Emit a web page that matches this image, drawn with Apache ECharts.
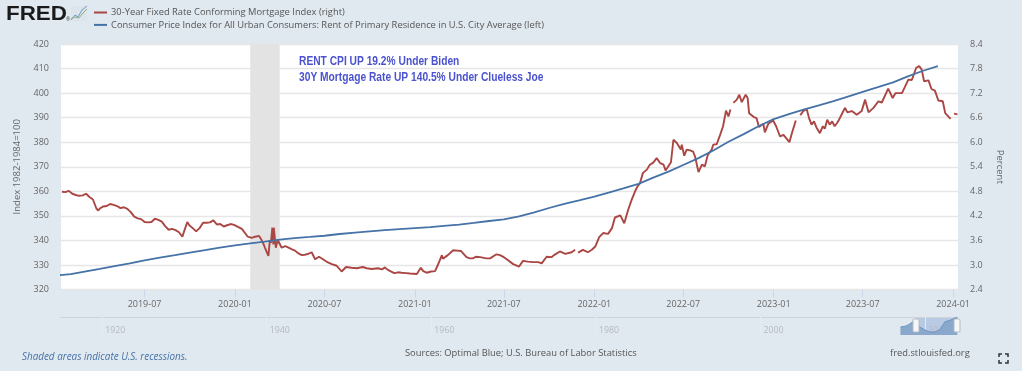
<!DOCTYPE html>
<html><head><meta charset="utf-8">
<style>html,body{margin:0;padding:0;background:#e1e9f0}#c{width:1022px;height:371px}</style>
<script src="https://cdn.jsdelivr.net/npm/echarts@6/dist/echarts.min.js"></script>
</head><body><div id="c"></div>
<script>
// Day offsets are counted from 2019-01-01; values are percent, null marks a gap in the source.
const rate2019 = [[13,4.79],[20,4.78],[27,4.81],[34,4.74],[41,4.71],[48,4.69],[55,4.70],[62,4.74],[69,4.66],[76,4.60],[83,4.38],[87,4.33],[90,4.38],[97,4.43],[104,4.44],[111,4.49],[118,4.47],[125,4.44],[132,4.39],[139,4.41],[146,4.37],[153,4.29],[160,4.18],[167,4.14],[174,4.12],[181,4.05],[188,4.04],[195,4.05],[202,4.13],[209,4.10],[216,4.06],[223,3.95],[230,3.86],[237,3.88],[244,3.85],[251,3.80],[258,3.69],[262,3.84],[268,4.05],[272,3.97],[279,3.90],[286,3.82],[293,3.90],[300,4.03],[307,4.03],[314,4.04],[321,4.09],[328,3.99],[335,4.00],[342,3.94],[349,3.97],[356,4.00],[363,3.98]];
const rate2020 = [[365,3.94],[379,3.88],[383,3.86],[391,3.69],[399,3.66],[406,3.69],[414,3.71],[421,3.57],[426,3.42],[433,3.22],[436,3.61],[438,3.54],[441,3.91],[443,3.50],[444,3.91],[448,3.42],[452,3.61],[460,3.42],[467,3.46],[473,3.43],[481,3.38],[487,3.35],[493,3.29],[501,3.24],[507,3.25],[514,3.27],[521,3.31],[528,3.14],[536,3.20],[544,3.14],[554,3.06],[562,3.02],[572,2.98],[582,2.84],[591,2.95],[602,2.93],[613,2.92],[625,2.95],[633,2.92],[643,2.90],[656,2.92],[664,2.89],[670,2.94],[676,2.88],[689,2.80],[697,2.82],[704,2.81],[713,2.80],[721,2.79]];
const rate2021 = [[735,2.78],[743,2.93],[748,2.85],[755,2.81],[764,2.84],[772,2.85],[777,2.98],[786,3.24],[788,3.15],[798,3.24],[809,3.36],[817,3.35],[825,3.34],[836,3.19],[843,3.16],[849,3.16],[855,3.20],[864,3.19],[876,3.16],[884,3.16],[897,3.26],[904,3.24],[912,3.19],[920,3.12],[931,3.02],[943,2.96],[951,3.10],[961,3.08],[971,3.07],[982,3.07],[989,3.04],[999,3.20],[1009,3.19],[1014,3.24],[1026,3.33],[1037,3.27],[1050,3.31],[1057,3.37],[1060,null],[1063,3.30],[1073,3.37],[1083,3.31],[1091,3.37]];
const rate2022 = [[1098,3.45],[1106,3.68],[1114,3.78],[1124,3.76],[1132,3.90],[1138,4.16],[1149,4.21],[1157,4.02],[1165,4.35],[1172,4.59],[1179,4.80],[1184,4.92],[1189,5.00],[1195,5.25],[1203,5.33],[1209,5.45],[1216,5.50],[1223,5.61],[1230,5.49],[1237,5.45],[1241,5.31],[1252,5.51],[1257,6.06],[1264,5.98],[1272,5.82],[1274,5.94],[1279,5.67],[1284,5.82],[1291,5.80],[1297,5.77],[1301,5.65],[1308,5.27],[1315,5.45],[1321,5.41],[1327,5.69],[1335,5.82],[1338,5.94],[1345,5.95],[1352,6.18],[1358,6.39],[1364,6.77],[1369,6.63],[1373,6.80],[1376,null],[1379,6.96],[1386,7.04],[1391,7.16],[1396,6.98],[1404,7.16],[1408,7.08],[1411,6.71],[1420,6.62],[1426,6.59],[1431,6.37],[1440,6.45],[1443,6.24],[1450,6.45],[1460,6.53]];
const rate2023 = [[1466,6.39],[1474,6.14],[1481,6.18],[1485,6.21],[1493,6.00],[1498,6.22],[1506,6.53],[1510,null],[1515,6.66],[1521,6.76],[1528,6.81],[1533,6.59],[1538,6.43],[1543,6.51],[1548,6.36],[1555,6.22],[1561,6.39],[1565,6.33],[1570,6.55],[1575,6.43],[1580,6.51],[1585,6.39],[1590,6.47],[1594,6.55],[1599,6.67],[1606,6.84],[1611,6.73],[1620,6.76],[1630,6.67],[1640,6.76],[1643,6.80],[1647,7.04],[1654,6.73],[1664,6.84],[1674,7.00],[1681,6.97],[1694,7.31],[1703,7.08],[1709,7.20],[1722,7.20],[1728,7.35],[1735,7.53],[1742,7.52],[1751,7.82],[1757,7.86],[1762,7.78],[1767,7.49],[1776,7.51],[1782,7.30],[1789,7.26],[1796,7.02],[1805,7.00],[1810,6.71],[1814,6.69],[1821,6.57],[1824,null],[1828,6.70],[1835,6.68]];

const rentStartYear = 2019;
const rentIndex = [325.7,326.3,327.3,328.4,329.5,330.6,331.9,333.0,334.0,335.0,336.0,337.1,
 338.0,338.8,339.5,340.3,340.9,341.4,341.9,342.6,343.2,343.7,344.2,344.6,
 345.0,345.4,345.9,346.4,347.1,347.9,348.6,349.8,351.4,353.2,354.9,356.3,
 357.8,359.6,361.2,363.0,365.6,368.0,370.7,373.5,376.7,380.2,383.3,386.5,
 389.4,391.4,393.2,394.9,396.6,398.6,400.5,402.4,404.4,406.8,409.1,411.0];

const xTickLabels = ['2019-07','2020-01','2020-07','2021-01','2021-07','2022-01','2022-07','2023-01','2023-07','2024-01'];
const navYears = [2017,2017.6,2018,2018.5,2018.9,2019.5,2020,2020.6,2021.2,2021.8,2022.4,2023.1,2023.9];
const navRates = [4.6,4.9,5.4,6.3,5.6,4.4,3.6,3.0,3.0,3.8,6.3,6.9,7.9];
const navLabels = [1920,1940,1960,1980,2000,2020];

const DAY = 86400000, T0 = Date.UTC(2019,0,1);
const ts = d => T0 + d*DAY;
const ym = s => { const [y,m] = s.split('-').map(Number); return Date.UTC(y,m-1,1); };
const rateData = [...rate2019,...rate2020,...rate2021,...rate2022,...rate2023].map(p => [ts(p[0]),p[1]]);
const rentData = rentIndex.map((v,i) => [Date.UTC(rentStartYear,i,1),v]);
const xTicks = xTickLabels.map(ym);
const FONT = '"Open Sans", sans-serif';
const LIB = '"Liberation Sans", sans-serif';

const chart = echarts.init(document.getElementById('c'),null,{renderer:'canvas'});
chart.setOption({
 animation:false, useUTC:true, backgroundColor:'#e1e9f0',
 textStyle:{fontFamily:FONT},
 legend:{left:94,top:8,padding:0,orient:'vertical',itemGap:3.4,itemWidth:13,itemHeight:2,icon:'rect',
   textStyle:{fontFamily:FONT,fontSize:9.35,color:'#555',padding:[0,0,0,-1]},
   data:['30-Year Fixed Rate Conforming Mortgage Index (right)','Consumer Price Index for All Urban Consumers: Rent of Primary Residence in U.S. City Average (left)']},
 grid:[
  {left:61,right:64,top:44,height:245.5,show:true,backgroundColor:'#fff',borderWidth:0},
  {left:61,right:64,top:317,height:18,show:false}
 ],
 xAxis:[
  {type:'value',gridIndex:0,min:ts(11),max:ts(1836),
   axisLine:{show:false},splitLine:{show:false},
   axisTick:{show:true,length:8,lineStyle:{color:'#ccd6eb'},customValues:xTicks},
   axisLabel:{color:'#666',fontSize:9,fontFamily:FONT,margin:10,
     customValues:xTicks,formatter:v=>xTickLabels[xTicks.indexOf(v)]||''}},
  {type:'value',gridIndex:1,position:'top',min:1915,max:2024,
   axisLine:{show:true,onZero:false,lineStyle:{color:'#cdd3d9',width:1}},splitLine:{show:false},
   axisTick:{show:true,inside:true,length:18,lineStyle:{color:'#e6ebf1'},customValues:navLabels},
   axisLabel:{inside:true,color:'#b5b9bd',fontSize:8.8,fontFamily:FONT,margin:9,align:'left',padding:[0,0,0,3],
     customValues:navLabels,formatter:v=>String(v)}}
 ],
 yAxis:[
  {type:'value',gridIndex:0,min:320,max:420,interval:10,position:'left',
   name:'Index 1982-1984=100',nameLocation:'middle',nameGap:39,nameRotate:90,
   nameTextStyle:{color:'#666',fontSize:9.5,fontFamily:FONT},
   axisLine:{show:false},axisTick:{show:false},
   axisLabel:{color:'#666',fontSize:9,fontFamily:FONT,margin:12},
   splitLine:{show:true,lineStyle:{color:'#e6e6e6',width:1.3}}},
  {type:'value',gridIndex:0,min:2.4,max:8.4,interval:0.6,position:'right',
   name:'Percent',nameLocation:'middle',nameGap:37,nameRotate:-90,
   nameTextStyle:{color:'#666',fontSize:9.5,fontFamily:FONT},
   axisLine:{show:false},axisTick:{show:false},splitLine:{show:false},
   axisLabel:{color:'#666',fontSize:9,fontFamily:FONT,margin:12,formatter:v=>v.toFixed(1)}},
  {type:'value',gridIndex:1,min:2,max:7.9,show:false}
 ],
 series:[
  {name:'30-Year Fixed Rate Conforming Mortgage Index (right)',type:'line',xAxisIndex:0,yAxisIndex:1,
   data:rateData,showSymbol:false,connectNulls:false,z:3,
   itemStyle:{color:'#aa4643'},lineStyle:{color:'#aa4643',width:1.9},
   markArea:{silent:true,z:1,itemStyle:{color:'#e3e3e3',opacity:1},data:[[{xAxis:ym('2020-02')},{xAxis:ym('2020-04')}]]}},
  {name:'Consumer Price Index for All Urban Consumers: Rent of Primary Residence in U.S. City Average (left)',
   type:'line',xAxisIndex:0,yAxisIndex:0,data:rentData,showSymbol:false,z:4,smooth:false,
   itemStyle:{color:'#4572a7'},lineStyle:{color:'#4572a7',width:1.8}},
  {name:'nav',type:'line',xAxisIndex:1,yAxisIndex:2,data:navYears.map((y,i)=>[y,navRates[i]]),
   showSymbol:false,silent:true,z:3,lineStyle:{color:'#6f93c2',width:1},itemStyle:{color:'#6f93c2'},
   areaStyle:{color:'#8aa7cc',opacity:1},
   markArea:{silent:true,z:0,itemStyle:{color:'#b9cae4',opacity:1},data:[[{xAxis:2018.9},{xAxis:2023.9}]]}}
 ],
 graphic:[
  {type:'text',x:6,y:4.5,scaleX:1.12,style:{text:'FRED',fontFamily:LIB,fontWeight:'bold',fontSize:20,fill:'#1a1a1a'}},
  {type:'text',x:66,y:17,style:{text:'®',fontFamily:FONT,fontSize:5,fill:'#444'}},
  {type:'rect',shape:{x:71,y:6,width:16,height:15},style:{fill:'#dde4ec'}},
  {type:'polyline',shape:{points:[[71,20],[75,15],[78,17],[82,10],[87,6]]},style:{stroke:'#6f9ac9',fill:null,lineWidth:1}},
  {type:'polyline',shape:{points:[[71,19],[75,17],[79,18],[83,13],[87,9]]},style:{stroke:'#8db07a',fill:null,lineWidth:1}},
  {type:'text',x:299,y:55,scaleX:0.787,style:{text:'RENT CPI UP 19.2% Under Biden',fontFamily:LIB,fontWeight:'bold',fontSize:13,fill:'#4a52cf'}},
  {type:'text',x:299,y:70.5,scaleX:0.787,style:{text:'30Y Mortgage Rate UP 140.5% Under Clueless Joe',fontFamily:LIB,fontWeight:'bold',fontSize:13,fill:'#4a52cf'}},
  {type:'text',x:22,y:352.5,style:{text:'Shaded areas indicate U.S. recessions.',fontFamily:FONT,fontStyle:'italic',fontSize:9.9,fill:'#4572a7'}},
  {type:'text',x:405,y:349,style:{text:'Sources: Optimal Blue; U.S. Bureau of Labor Statistics',fontFamily:FONT,fontSize:9.35,fill:'#555'}},
  {type:'text',x:890,y:349,style:{text:'fred.stlouisfed.org',fontFamily:FONT,fontSize:9.35,fill:'#555'}},
  {type:'rect',z:10,shape:{x:913,y:319,width:6,height:13,r:1},style:{fill:'#f4f6f8',stroke:'#b5bcc4',lineWidth:1}},
  {type:'rect',z:10,shape:{x:954,y:319,width:6,height:13,r:1},style:{fill:'#f4f6f8',stroke:'#b5bcc4',lineWidth:1}},
  {type:'polyline',shape:{points:[[999,357],[999,354],[1002,354]]},style:{stroke:'#333',fill:null,lineWidth:1.5}},
  {type:'polyline',shape:{points:[[1005,354],[1008,354],[1008,357]]},style:{stroke:'#333',fill:null,lineWidth:1.5}},
  {type:'polyline',shape:{points:[[999,360],[999,363],[1002,363]]},style:{stroke:'#333',fill:null,lineWidth:1.5}},
  {type:'polyline',shape:{points:[[1005,363],[1008,363],[1008,360]]},style:{stroke:'#333',fill:null,lineWidth:1.5}}
 ]
});
</script></body></html>
